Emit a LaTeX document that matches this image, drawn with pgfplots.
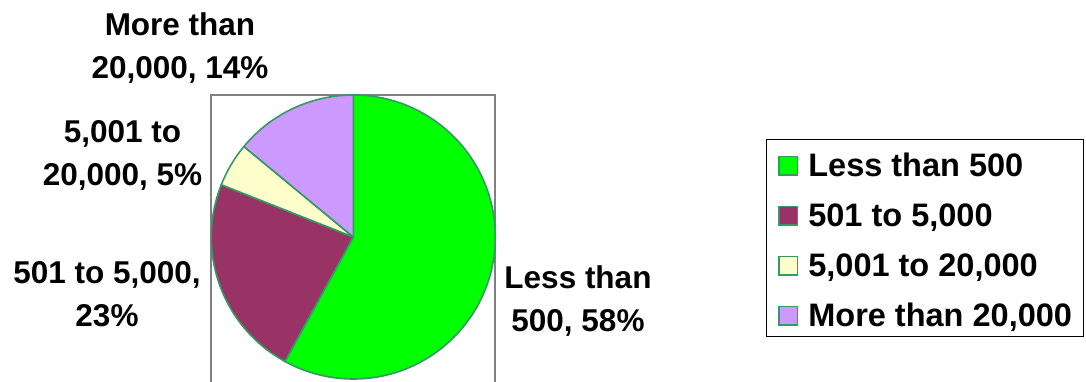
\documentclass[border=0pt]{standalone}
\usepackage{fontspec}
\setmainfont{Liberation Sans}
\usepackage{pgfplots}
\usepackage{pgfplotstable}
\pgfplotsset{compat=1.18}

\definecolor{sliceA}{RGB}{0,255,0}
\definecolor{sliceB}{RGB}{153,51,102}
\definecolor{sliceC}{RGB}{255,255,204}
\definecolor{sliceD}{RGB}{204,153,255}
\definecolor{edge}{RGB}{51,153,102}
\definecolor{frame}{RGB}{128,128,128}

% share of each size class, in percent
\pgfplotstableread{
share
58
23
5
14
}\sharetable

\newcommand\labelfont{\fontsize{31.5}{43}\selectfont\bfseries}
\newcommand\legendfont{\fontsize{32.5}{40}\selectfont\bfseries}

\begin{document}
\begin{tikzpicture}
\path[use as bounding box] (0,0) rectangle (1086pt,381pt);
% cumulative angles, clockwise from twelve o'clock
\pgfplotstablegetelem{0}{share}\of\sharetable\let\sA\pgfplotsretval
\pgfplotstablegetelem{1}{share}\of\sharetable\let\sB\pgfplotsretval
\pgfplotstablegetelem{2}{share}\of\sharetable\let\sC\pgfplotsretval
\pgfplotstablegetelem{3}{share}\of\sharetable\let\sD\pgfplotsretval
\pgfmathsetmacro\angA{90}
\pgfmathsetmacro\angB{\angA-3.6*\sA}
\pgfmathsetmacro\angC{\angB-3.6*\sB}
\pgfmathsetmacro\angD{\angC-3.6*\sC}
\pgfmathsetmacro\angE{\angD-3.6*\sD}
\begin{axis}[
  at={(353.3pt,144pt)}, anchor=origin,
  x=142pt, y=142pt,
  xmin=-1, xmax=1, ymin=-1, ymax=1,
  hide axis, clip=false,
  legend image code/.code={\draw[#1, line width=1.4pt] (0pt,-11.9pt) rectangle (18.6pt,6.7pt);},
  legend cell align=left,
  legend style={at={(1.955,0.8433)}, anchor=north west, draw=black,
    line width=1.3pt, fill=white, outer sep=0pt,
    inner xsep=11.8pt, inner ysep=5.4pt,
    row sep=13.8pt, column sep=10pt, font=\legendfont,
    nodes={inner sep=0pt, outer sep=0pt, text height=31.2pt, text depth=5pt}},
]
% plot-area frame
\draw[frame, line width=2pt] (axis cs:-1,-1.3) -- (axis cs:-1,1) -- (axis cs:1,1) -- (axis cs:1,-1.3);
% slices
\filldraw[fill=sliceA, draw=edge, line width=1.6pt, line join=round]
  (axis cs:0,0) -- (axis cs:{cos(\angA)},{sin(\angA)}) arc[start angle=\angA, end angle=\angB, radius=142pt] -- cycle;
\filldraw[fill=sliceB, draw=edge, line width=1.6pt, line join=round]
  (axis cs:0,0) -- (axis cs:{cos(\angB)},{sin(\angB)}) arc[start angle=\angB, end angle=\angC, radius=142pt] -- cycle;
\filldraw[fill=sliceC, draw=edge, line width=1.6pt, line join=round]
  (axis cs:0,0) -- (axis cs:{cos(\angC)},{sin(\angC)}) arc[start angle=\angC, end angle=\angD, radius=142pt] -- cycle;
\filldraw[fill=sliceD, draw=edge, line width=1.6pt, line join=round]
  (axis cs:0,0) -- (axis cs:{cos(\angD)},{sin(\angD)}) arc[start angle=\angD, end angle=\angE, radius=142pt] -- cycle;
\addlegendimage{fill=sliceA, draw=edge}
\addlegendentry{Less than 500}
\addlegendimage{fill=sliceB, draw=edge}
\addlegendentry{501 to 5,000}
\addlegendimage{fill=sliceC, draw=edge}
\addlegendentry{5,001 to 20,000}
\addlegendimage{fill=sliceD, draw=edge}
\addlegendentry{More than 20,000}
\end{axis}
% slice labels (anchored at the baseline of their last line)
\begin{scope}[every node/.style={font=\labelfont, align=center, anchor=base, inner sep=0pt}]
\node at (180pt,302.7pt) {More than\\20,000, 14\%};
\node at (122.5pt,196pt) {5,001 to\\20,000, 5\%};
\node at (107pt,54.3pt) {501 to 5,000,\\23\%};
\node at (578pt,49.3pt) {Less than\\500, 58\%};
\end{scope}
\end{tikzpicture}
\end{document}
